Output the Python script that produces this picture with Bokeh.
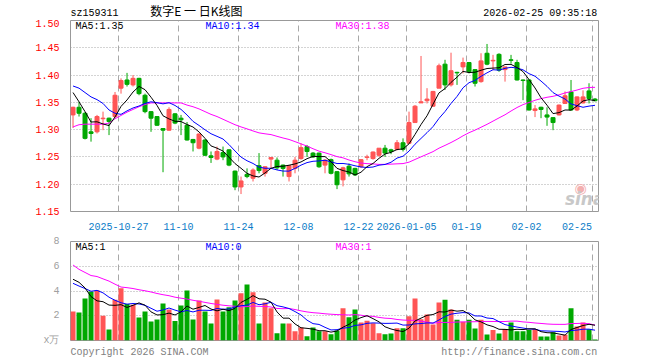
from bokeh.plotting import figure
from bokeh.layouts import column
from bokeh.models import FixedTicker, Label, Range1d, NumeralTickFormatter
from bokeh.embed import file_html
from bokeh.resources import INLINE

code = "sz159311"
title_cn = "数字E 一 日K线图"
stamp = "2026-02-25 09:35:18"
copyright_text = "Copyright 2026 SINA.COM"
site_text = "http://finance.sina.com.cn"
vol_unit = "x万"

opens = [1.327, 1.341, 1.330, 1.296, 1.296, 1.320, 1.321, 1.324, 1.376, 1.391,
         1.382, 1.394, 1.363, 1.333, 1.324, 1.302, 1.299, 1.329, 1.321, 1.308,
         1.282, 1.266, 1.281, 1.252, 1.246, 1.258, 1.263, 1.224, 1.195, 1.218,
         1.211, 1.234, 1.220, 1.246, 1.244, 1.235, 1.214, 1.229, 1.247, 1.269,
         1.257, 1.257, 1.235, 1.245, 1.223, 1.208, 1.233, 1.229, 1.232, 1.249,
         1.247, 1.253, 1.266, 1.263, 1.264, 1.276, 1.275, 1.313, 1.349, 1.353,
         1.343, 1.376, 1.420, 1.382, 1.405, 1.415, 1.423, 1.410, 1.388, 1.440,
         1.426, 1.438, 1.410, 1.428, 1.423, 1.391, 1.391, 1.335, 1.341, 1.327,
         1.322, 1.327, 1.348, 1.369, 1.336, 1.349, 1.371, 1.356]
highs = [1.342, 1.351, 1.332, 1.321, 1.327, 1.333, 1.322, 1.369, 1.394, 1.404,
         1.400, 1.395, 1.366, 1.334, 1.325, 1.303, 1.341, 1.330, 1.327, 1.314,
         1.283, 1.293, 1.282, 1.260, 1.269, 1.269, 1.264, 1.225, 1.214, 1.229,
         1.229, 1.257, 1.233, 1.249, 1.249, 1.236, 1.234, 1.250, 1.275, 1.272,
         1.259, 1.258, 1.246, 1.247, 1.224, 1.232, 1.238, 1.230, 1.246, 1.254,
         1.260, 1.266, 1.272, 1.265, 1.281, 1.284, 1.333, 1.345, 1.435, 1.376,
         1.371, 1.421, 1.428, 1.441, 1.406, 1.432, 1.424, 1.411, 1.440, 1.457,
         1.437, 1.440, 1.415, 1.437, 1.428, 1.392, 1.392, 1.345, 1.342, 1.341,
         1.323, 1.346, 1.370, 1.391, 1.361, 1.372, 1.385, 1.358]
lows = [1.303, 1.324, 1.282, 1.278, 1.293, 1.299, 1.290, 1.321, 1.366, 1.379,
        1.379, 1.363, 1.330, 1.296, 1.307, 1.222, 1.298, 1.310, 1.290, 1.280,
        1.260, 1.264, 1.252, 1.239, 1.244, 1.244, 1.233, 1.189, 1.182, 1.211,
        1.205, 1.220, 1.214, 1.229, 1.226, 1.214, 1.205, 1.220, 1.245, 1.250,
        1.248, 1.230, 1.220, 1.218, 1.191, 1.196, 1.214, 1.215, 1.230, 1.244,
        1.245, 1.250, 1.250, 1.255, 1.262, 1.260, 1.275, 1.313, 1.349, 1.348,
        1.342, 1.376, 1.373, 1.379, 1.382, 1.403, 1.403, 1.379, 1.386, 1.418,
        1.409, 1.406, 1.388, 1.421, 1.390, 1.354, 1.335, 1.323, 1.321, 1.307,
        1.299, 1.326, 1.347, 1.335, 1.334, 1.348, 1.348, 1.352]
closes = [1.341, 1.330, 1.284, 1.293, 1.324, 1.321, 1.315, 1.363, 1.390, 1.383,
          1.394, 1.366, 1.333, 1.321, 1.308, 1.299, 1.337, 1.312, 1.318, 1.281,
          1.276, 1.292, 1.253, 1.249, 1.260, 1.250, 1.235, 1.195, 1.206, 1.214,
          1.226, 1.225, 1.232, 1.249, 1.230, 1.229, 1.234, 1.244, 1.267, 1.260,
          1.250, 1.232, 1.244, 1.220, 1.199, 1.230, 1.219, 1.217, 1.245, 1.250,
          1.259, 1.266, 1.257, 1.260, 1.276, 1.264, 1.313, 1.343, 1.351, 1.356,
          1.370, 1.417, 1.382, 1.408, 1.404, 1.423, 1.406, 1.385, 1.426, 1.420,
          1.427, 1.409, 1.415, 1.427, 1.391, 1.390, 1.336, 1.338, 1.337, 1.323,
          1.313, 1.345, 1.362, 1.336, 1.360, 1.360, 1.357, 1.353]
volumes = [2.34, 2.26, 3.39, 3.96, 4.07, 2.00, 0.89, 3.29, 4.23, 2.94,
           2.88, 1.86, 2.34, 1.54, 1.70, 2.99, 2.50, 1.58, 2.82, 4.04,
           1.70, 3.23, 2.35, 1.38, 3.32, 2.35, 2.68, 3.23, 3.81, 4.53,
           3.89, 1.38, 3.08, 2.61, 0.58, 1.38, 1.38, 0.74, 1.06, 0.35,
           1.06, 0.74, 0.74, 0.50, 0.80, 2.61, 1.87, 2.50, 1.46, 1.60,
           1.40, 0.58, 0.50, 0.57, 0.98, 0.98, 1.96, 3.40, 1.72, 2.10,
           1.30, 3.08, 3.30, 2.50, 1.68, 1.52, 1.68, 0.96, 1.68, 0.48,
           0.85, 0.56, 0.92, 1.46, 0.74, 0.74, 0.85, 0.92, 0.32, 0.32,
           0.66, 0.40, 0.46, 2.60, 1.13, 1.46, 0.90, 0.08]

# moving-average values at the left edge (window not complete yet)
ma5_head = [1.368, 1.351, 1.333, 1.314]
ma10_head = [1.380, 1.376, 1.368, 1.360, 1.355, 1.348, 1.336, 1.330, 1.328]
ma30_head = [1.305, 1.309, 1.310, 1.310, 1.310, 1.310, 1.312, 1.320, 1.326, 1.332,
             1.337, 1.342, 1.346, 1.349, 1.349, 1.349, 1.349, 1.349, 1.349, 1.345,
             1.342, 1.338, 1.333, 1.328, 1.324, 1.319, 1.314, 1.309, 1.305]
vma5_head = [4.95, 4.70, 4.25, 3.55]
vma10_head = [4.62, 4.40, 4.20, 3.98, 4.05, 3.85, 3.50, 3.25, 3.05]
vma30_head = [6.10, 5.75, 5.50, 5.25, 5.17, 4.98, 4.80, 4.55, 4.32, 4.27,
              4.20, 4.10, 4.02, 3.92, 3.80, 3.70, 3.62, 3.50, 3.42, 3.35,
              3.25, 3.17, 3.08, 2.99, 2.92, 2.85, 2.80, 2.77, 2.72]

tick_idx = [8, 18, 28, 38, 48, 56, 66, 76, 87]
tick_labels = ["2025-10-27", "11-10", "11-24", "12-08", "12-22",
               "2026-01-05", "01-19", "02-02", "02-25"]
price_ticks = [1.15, 1.20, 1.25, 1.30, 1.35, 1.40, 1.45, 1.50]
vol_ticks = [0, 2, 4, 6, 8]
ma_price_text = ["MA5:1.35", "MA10:1.34", "MA30:1.38"]
ma_vol_text = ["MA5:1", "MA10:0", "MA30:1"]


def moving(vals, w, head):
    out = list(head)
    for i in range(w - 1, len(vals)):
        out.append(sum(vals[i - w + 1:i + 1]) / w)
    return out


n = len(closes)
xs = [i + 0.42 for i in range(n)]
RED = "#ff5555"
GREEN = "#00a800"
colors = [RED if c >= o else GREEN for o, c in zip(opens, closes)]
tops = [max(o, c) for o, c in zip(opens, closes)]
bottoms = [min(o, c) for o, c in zip(opens, closes)]

ma5 = moving(closes, 5, ma5_head)
ma10 = moving(closes, 10, ma10_head)
ma30 = moving(closes, 30, ma30_head)
vma5 = moving(volumes, 5, vma5_head)
vma10 = moving(volumes, 10, vma10_head)
vma30 = moving(volumes, 30, vma30_head)

MONO = "Liberation Mono"
FS = "10px"
GRID = "#a8a8a8"
MA_COLORS = ["#000000", "#0000ff", "#ff00ff"]
MA_X = [0.83, 22.5, 44.17]


def base(p):
    p.outline_line_color = "#999999"
    p.outline_line_width = 1
    p.background_fill_color = "white"
    p.border_fill_color = "white"
    p.yaxis.axis_line_color = None
    p.yaxis.major_tick_line_color = None
    p.yaxis.minor_tick_line_color = None
    p.yaxis.major_label_standoff = 5
    p.yaxis.major_label_text_font = MONO
    p.yaxis.major_label_text_font_size = FS
    p.xgrid.ticker = FixedTicker(ticks=tick_idx)
    p.xgrid.grid_line_color = GRID
    p.xgrid.grid_line_dash = "6 4"
    p.ygrid.grid_line_color = GRID
    p.ygrid.grid_line_dash = "1 2"


# ---------------- header strip (code, title, time stamp) ----------------
hdr = figure(width=660, height=19, x_range=Range1d(0, n), y_range=Range1d(0, 19),
             output_backend="svg", toolbar_location=None, tools="",
             min_border_left=70, min_border_right=62, min_border_top=0, min_border_bottom=0)
hdr.axis.visible = False
hdr.grid.visible = False
hdr.outline_line_color = None
hdr.border_fill_color = "white"
hdr.add_layout(Label(x=0, y=6, text=code, text_color="black", text_font=MONO,
                     text_font_size=FS, text_baseline="middle"))
hdr.add_layout(Label(x=13.3, y=9, text=title_cn, text_color="black",
                     text_font="Noto Sans CJK SC", text_font_size="12px",
                     text_baseline="middle"))
hdr.add_layout(Label(x=87.8, y=6, text=stamp, text_color="black", text_font=MONO,
                     text_font_size=FS, text_baseline="middle", text_align="right"))

# ---------------- price panel ----------------
p1 = figure(width=660, height=213, x_range=hdr.x_range, y_range=Range1d(1.15, 1.50),
            output_backend="svg", toolbar_location=None, tools="",
            min_border_left=70, min_border_right=62, min_border_top=1, min_border_bottom=21)
base(p1)
p1.yaxis.ticker = FixedTicker(ticks=price_ticks)
p1.yaxis.formatter = NumeralTickFormatter(format="0.00")
p1.yaxis.major_label_text_color = "#ff0000"
p1.ygrid.ticker = FixedTicker(ticks=price_ticks[1:-1])

label_pos = tick_idx[:-1] + [tick_idx[-1] - 2.6]
p1.xaxis.ticker = FixedTicker(ticks=label_pos)
p1.xaxis.major_label_overrides = {pos: lab for pos, lab in zip(label_pos, tick_labels)}
p1.xaxis.axis_line_color = None
p1.xaxis.major_tick_line_color = None
p1.xaxis.minor_tick_line_color = None
p1.xaxis.major_label_standoff = 5
p1.xaxis.major_label_text_color = "#0a7cc8"
p1.xaxis.major_label_text_font = MONO
p1.xaxis.major_label_text_font_size = FS

p1.segment(xs, lows, xs, highs, color=colors, line_width=1)
p1.vbar(x=xs, width=0.667, top=tops, bottom=bottoms, fill_color=colors,
        line_color=colors, line_width=1)
for series, col in zip([ma30, ma10, ma5], MA_COLORS[::-1]):
    p1.line(xs, series, line_color=col, line_width=1)

for txt, col, x in zip(ma_price_text, MA_COLORS, MA_X):
    p1.add_layout(Label(x=x, y=1.4885, text=txt, text_color=col, text_font=MONO,
                        text_font_size=FS, text_baseline="middle"))

p1.add_layout(Label(x=84.0, y=1.193, text="◉", text_color="#f3b0b0",
                    text_font="DejaVu Sans", text_font_size="14px", text_baseline="middle"))
p1.add_layout(Label(x=82.4, y=1.172, text="sina", text_color="#c8c8c8",
                    text_font="DejaVu Sans", text_font_style="bold italic",
                    text_font_size="17px", text_baseline="middle"))

# ---------------- volume panel ----------------
p2 = figure(width=660, height=128, x_range=hdr.x_range, y_range=Range1d(0, 8),
            output_backend="svg", toolbar_location=None, tools="",
            min_border_left=70, min_border_right=62, min_border_top=9, min_border_bottom=20)
base(p2)
p2.yaxis.ticker = FixedTicker(ticks=vol_ticks)
p2.yaxis.major_label_overrides = {0: vol_unit}
p2.yaxis.major_label_text_color = "#a0a0a0"
p2.ygrid.ticker = FixedTicker(ticks=vol_ticks[1:-1])

# footer texts drawn as the bottom axis with text ticks
footer_pos = [11.5, 74.8]
p2.xaxis.ticker = FixedTicker(ticks=footer_pos)
p2.xaxis.major_label_overrides = {t: s for t, s in zip(footer_pos, [copyright_text, site_text])}
p2.xaxis.axis_line_color = None
p2.xaxis.major_tick_line_color = None
p2.xaxis.minor_tick_line_color = None
p2.xaxis.major_label_standoff = 0
p2.xaxis.major_label_text_color = "#808080"
p2.xaxis.major_label_text_font = MONO
p2.xaxis.major_label_text_font_size = FS

p2.vbar(x=xs, width=0.833, top=volumes, bottom=0, fill_color=colors, line_color=None)
for series, col in zip([vma30, vma10, vma5], MA_COLORS[::-1]):
    p2.line(xs, series, line_color=col, line_width=1)

for txt, col, x in zip(ma_vol_text, MA_COLORS, MA_X):
    p2.add_layout(Label(x=x, y=7.54, text=txt, text_color=col, text_font=MONO,
                        text_font_size=FS, text_baseline="middle"))

layout = column(hdr, p1, p2, spacing=0)
open("out.html", "w").write(file_html(layout, INLINE))
